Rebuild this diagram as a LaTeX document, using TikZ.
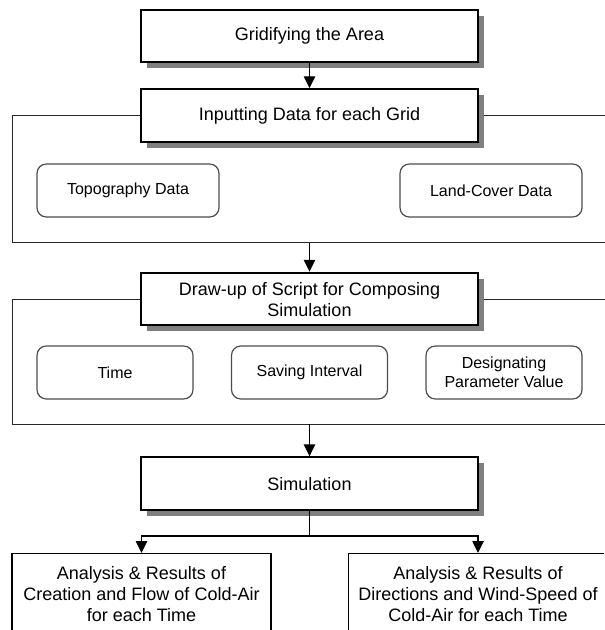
\documentclass[tikz,border=0pt]{standalone}
\usepackage{fontspec}
\setmainfont{Liberation Sans}
\usepackage{tikz}
\usetikzlibrary{arrows.meta,positioning,shadows,backgrounds}

\tikzset{
  mainbox/.style={draw,line width=1.5pt,fill=white,minimum width=252.75pt,minimum height=39.4pt,
    inner sep=0pt,align=center,font=\fontsize{13.5}{15.75}\selectfont,
    drop shadow={shadow xshift=4.5pt,shadow yshift=-4.5pt,fill=black!50,opacity=1}},
  subbox/.style={draw=black!70,line width=0.9pt,rounded corners=7pt,fill=white,minimum height=39.75pt,
    inner sep=0pt,align=center,font=\fontsize{12}{14.25}\selectfont},
  resultbox/.style={draw,line width=1pt,fill=white,minimum width=194.25pt,minimum height=60pt,
    inner sep=0pt,anchor=north,align=center,font=\fontsize{13.5}{15.75}\selectfont},
  frameline/.style={draw=black!85,line width=0.75pt}
}

\begin{document}
\begin{tikzpicture}[x=0.75pt,y=-0.75pt,>={Triangle[length=9pt,width=8.5pt]},semithick]
\useasboundingbox (0,0) rectangle (604,630);
\clip (0,0) rectangle (604,630);

\node[mainbox] (grid) at (309.5,36) {Gridifying the Area};
\node[mainbox] (input) [below=18.75pt of grid] {Inputting Data for each Grid};
\node[mainbox] (script) [below=96.75pt of input] {Draw-up of Script for Composing\\Simulation};
\node[mainbox] (sim) [below=97.5pt of script] {Simulation};

\node[subbox,minimum width=136.5pt] (topo) at (128,190.5) {Topography Data};
\node[subbox,minimum width=136.5pt] (land) at (491,190.5) {Land-Cover Data};

\node[subbox,minimum width=117pt] (time) at (115,372.5) {Time};
\node[subbox,minimum width=117pt] (save) at (309.5,372.5) {Saving Interval};
\node[subbox,minimum width=117pt] (param) at (504,372.5) {Designating\\Parameter Value};

\node[resultbox] (res1) at (141.5,553) {Analysis \& Results of\\Creation and Flow of Cold-Air\\for each Time};
\node[resultbox] (res2) at (478,553) {Analysis \& Results of\\Directions and Wind-Speed of\\Cold-Air for each Time};

\coordinate (f1) at (309.5,243);
\coordinate (f2) at (309.5,424);

\begin{scope}[on background layer]
\path[frameline] (input.west) -| (12,243) -- (607,243) |- (input.east);
\path[frameline] (script.west) -| (12,424) -- (607,424) |- (script.east);
\end{scope}

\path[->,line width=1.1pt]
(grid) edge (input)
(f1) edge (script)
(f2) edge (sim);
\draw[->,line width=1.1pt] (sim.south) -- ++(0,25) -| (res1.north);
\draw[->,line width=1.1pt] (sim.south) -- ++(0,25) -| (res2.north);
\end{tikzpicture}
\end{document}
